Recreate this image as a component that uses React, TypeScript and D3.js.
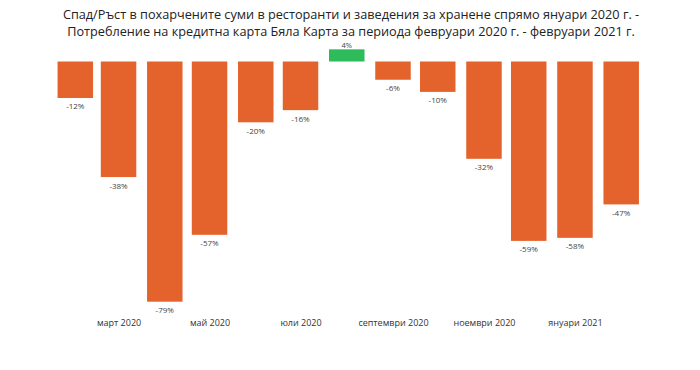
import React, { useEffect, useRef } from "react";
import * as d3 from "d3";

// months Feb 2020 .. Feb 2021
const months = [
  "2020-02", "2020-03", "2020-04", "2020-05", "2020-06", "2020-07", "2020-08",
  "2020-09", "2020-10", "2020-11", "2020-12", "2021-01", "2021-02",
];
const values = [-12, -38, -79, -57, -20, -16, 4, -6, -10, -32, -59, -58, -47];
const monthNames = [
  "януари", "февруари", "март", "април", "май", "юни",
  "юли", "август", "септември", "октомври", "ноември", "декември",
];
const titleLines = [
  "Спад/Ръст в похарчените суми в ресторанти и заведения за хранене спрямо януари 2020 г. -",
  "Потребление на кредитна карта Бяла Карта за периода февруари 2020 г. - февруари 2021 г.",
];

export default function App() {
  const ref = useRef<SVGSVGElement>(null);
  const width = 700;
  const height = 370;

  useEffect(() => {
    const svg = d3.select(ref.current);
    svg.selectAll("*").remove();

    const parse = d3.timeParse("%Y-%m");
    const data = months.map((m, i) => ({ date: parse(m) as Date, value: values[i] }));

    const x = d3
      .scaleTime()
      .domain([data[0].date, data[data.length - 1].date])
      .range([75.3, 621.2]);
    const y = d3.scaleLinear().domain([0, -79]).range([61.5, 301.7]);
    const barW = 35.5;

    // title
    svg
      .selectAll("text.title")
      .data(titleLines)
      .enter()
      .append("text")
      .attr("class", "title")
      .attr("x", 351)
      .attr("y", (d, i) => 18.5 + i * 17.3)
      .attr("text-anchor", "middle")
      .style("font-family", "'Open Sans', sans-serif")
      .style("font-size", "12.7px")
      .attr("fill", "#222")
      .text((d) => d);

    // bars
    svg
      .selectAll("rect.bar")
      .data(data)
      .enter()
      .append("rect")
      .attr("class", "bar")
      .attr("x", (d) => x(d.date) - barW / 2)
      .attr("y", (d) => y(Math.max(0, d.value)))
      .attr("width", barW)
      .attr("height", (d) => Math.abs(y(d.value) - y(0)))
      .attr("fill", (d) => (d.value >= 0 ? "#2dbb5b" : "#e4632c"));

    // value labels: under negative bars, above positive ones
    svg
      .selectAll("text.val")
      .data(data)
      .enter()
      .append("text")
      .attr("class", "val")
      .attr("x", (d) => x(d.date))
      .attr("y", (d) => (d.value >= 0 ? y(d.value) - 1.5 : y(d.value) + 11.5))
      .attr("text-anchor", "middle")
      .style("font-family", "'Open Sans', sans-serif")
      .style("font-size", (d) => (d.value >= 0 ? "7.5px" : "8px"))
      .attr("fill", "#444")
      .text((d) => d.value + "%");

    // x axis labels
    const axis = d3
      .axisBottom(x)
      .ticks(d3.timeMonth.every(2))
      .tickSize(0)
      .tickFormat((d: any) => monthNames[d.getMonth()] + " " + d.getFullYear());
    const g = svg.append("g").attr("transform", "translate(0,317)").call(axis as any);
    g.select(".domain").remove();
    g.selectAll("text")
      .style("font-family", "'Open Sans', sans-serif")
      .style("font-size", "9px")
      .attr("fill", "#333");
  });

  return (
    <svg
      ref={ref}
      width={width}
      height={height}
      style={{ position: "absolute", left: 0, top: 0, background: "#fff" }}
    ></svg>
  );
}
